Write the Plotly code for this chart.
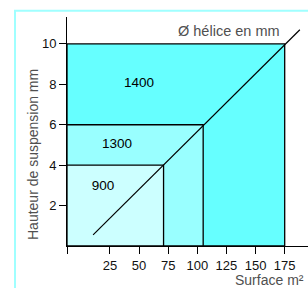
import plotly.graph_objects as go

# data
labels = ["1400", "1300", "900"]
surfaces = [175, 105, 71]          # m2 (right edge of each zone)
heights = [10, 6, 4]               # mm (top of each zone)
fills = ["#66FFFF", "#99FFFF", "#CCFFFF"]
label_x = [50, 31, 19]
label_y = [8.05, 5.0, 2.95]
diag_x = [10.5, 188]
diag_y = [0.55, 10.7]
x_ticks = [25, 50, 75, 100, 125, 150, 175]
y_ticks = [2, 4, 6, 8, 10]

W, H = 308, 288
ML, MR, MT, MB = 67, 0, 17, 42
XR = [-11.9, 195]
YR = [0, 11.33]

def px(xp):
    return (xp - ML) / (W - ML - MR)

def py(yp):
    return (H - MB - yp) / (H - MT - MB)

fig = go.Figure()
for lab, s, h, c in zip(labels, surfaces, heights, fills):
    fig.add_trace(go.Scatter(
        x=[XR[0], s, s, XR[0], XR[0]], y=[0, 0, h, h, 0],
        mode="lines", fill="toself", fillcolor=c,
        line=dict(color="black", width=1.3), hoverinfo="skip", showlegend=False))

fig.add_trace(go.Scatter(x=diag_x, y=diag_y, mode="lines",
                         line=dict(color="black", width=1.2), showlegend=False))

fig.add_trace(go.Scatter(x=label_x, y=label_y, mode="text", text=labels,
                         textfont=dict(family="Liberation Sans, Arial", size=13.5, color="black"),
                         showlegend=False))

tick_font = dict(family="Liberation Sans, Arial", size=13, color="#111")
fig.update_xaxes(range=XR, tickvals=[XR[0]] + x_ticks, ticktext=[""] + [str(v) for v in x_ticks],
                 ticks="outside", ticklen=7, tickcolor="black", showline=True, linecolor="black",
                 linewidth=1, showgrid=False, zeroline=False, tickfont=tick_font)
fig.update_yaxes(range=YR, tickvals=y_ticks, ticks="outside", ticklen=7, tickcolor="black",
                 showline=True, linecolor="black", linewidth=1, showgrid=False, zeroline=False,
                 tickfont=tick_font)

tfont = dict(family="Liberation Sans, Arial", color="#505050")
fig.add_annotation(xref="paper", yref="paper", x=px(229), y=py(31), text="Ø hélice en mm",
                   showarrow=False, xanchor="center", yanchor="middle", font=dict(size=14.5, **tfont))
fig.add_annotation(xref="paper", yref="paper", x=px(306), y=py(280), text="Surface m²",
                   showarrow=False, xanchor="right", yanchor="middle", font=dict(size=14, **tfont))
fig.add_annotation(xref="paper", yref="paper", x=px(33), y=py(155), text="Hauteur de suspension mm",
                   showarrow=False, textangle=-90, xanchor="center", yanchor="middle",
                   font=dict(size=14, **tfont))

fig.add_shape(type="rect", xref="paper", yref="paper", x0=px(15), x1=px(320), y0=py(300), y1=py(10.7),
              line=dict(color="#A0FFFF", width=2), fillcolor="rgba(0,0,0,0)", layer="below")

fig.update_layout(width=W, height=H, margin=dict(l=ML, r=MR, t=MT, b=MB),
                  plot_bgcolor="white", paper_bgcolor="white", showlegend=False)
fig.write_html("out.html", config={"displayModeBar": False},
               post_script="document.body.style.margin='0';")
